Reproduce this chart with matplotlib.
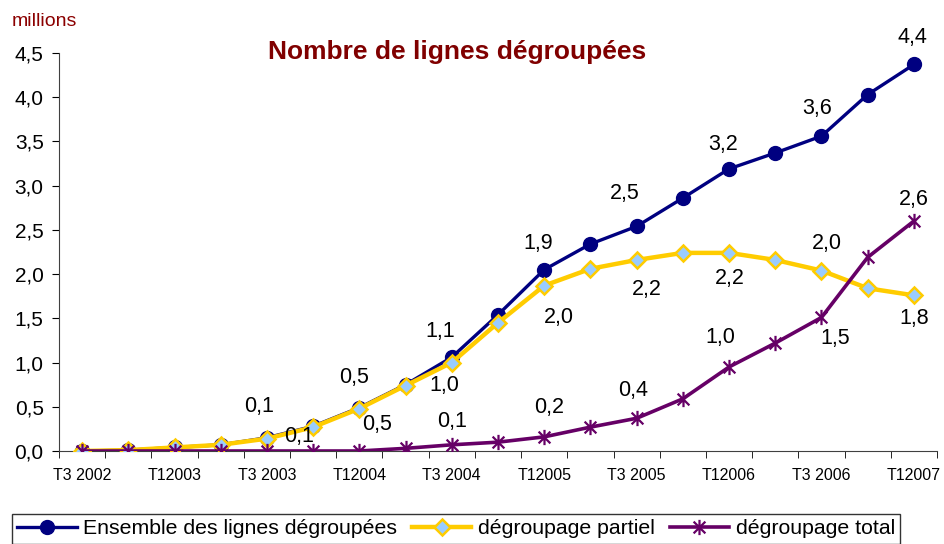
import matplotlib.pyplot as plt
import numpy as np
from matplotlib.path import Path

plt.rcParams['font.family'] = ['Liberation Sans', 'DejaVu Sans']

# Trimestres T3 2002 -> T1 2007
trimestres = ['T3 2002', 'T4 2002', 'T12003', 'T2 2003', 'T3 2003', 'T4 2003',
              'T12004', 'T2 2004', 'T3 2004', 'T4 2004', 'T12005', 'T2 2005',
              'T3 2005', 'T4 2005', 'T12006', 'T2 2006', 'T3 2006', 'T4 2006',
              'T12007']

# millions de lignes
ensemble = [0.0, 0.01, 0.04, 0.07, 0.15, 0.28, 0.49, 0.75, 1.06, 1.54, 2.05,
            2.34, 2.54, 2.86, 3.19, 3.37, 3.56, 4.03, 4.37]
partiel = [0.0, 0.01, 0.04, 0.07, 0.14, 0.27, 0.48, 0.74, 1.0, 1.45, 1.87,
           2.06, 2.16, 2.24, 2.24, 2.16, 2.04, 1.84, 1.76]
total = [0.0, 0.0, 0.0, 0.0, 0.0, 0.0, 0.0, 0.03, 0.07, 0.10, 0.16,
         0.27, 0.37, 0.59, 0.95, 1.22, 1.51, 2.19, 2.60]

# etiquettes de valeurs (texte)
etiq_ensemble = {4: '0,1', 6: '0,5', 8: '1,1', 10: '1,9', 12: '2,5',
                 14: '3,2', 16: '3,6', 18: '4,4'}
etiq_partiel = {4: '0,1', 6: '0,5', 8: '1,0', 10: '2,0', 12: '2,2',
                14: '2,2', 16: '2,0', 18: '1,8'}
etiq_total = {8: '0,1', 10: '0,2', 12: '0,4', 14: '1,0', 16: '1,5', 18: '2,6'}

x = np.arange(len(trimestres))

# marqueur etoile type Excel (x + barre verticale)
etoile = Path([(-1, -1), (1, 1), (-1, 1), (1, -1), (0, -1.3), (0, 1.3)],
              [Path.MOVETO, Path.LINETO, Path.MOVETO, Path.LINETO,
               Path.MOVETO, Path.LINETO])

fig = plt.figure(figsize=(9.45, 5.44), dpi=100)
ax = fig.add_axes([59 / 945, 1 - 451 / 544, 878 / 945, (451 - 53) / 544])

ax.plot(x, ensemble, color='#000080', lw=2.4, marker='o', ms=10,
        mfc='#000080', mec='#000080', label='Ensemble des lignes dégroupées',
        zorder=3)
ax.plot(x, partiel, color='#FFCC00', lw=3.2, marker='D', ms=8,
        mfc='#99CCFF', mec='#FFCC00', mew=1.8, label='dégroupage partiel',
        zorder=4)
ax.plot(x, total, color='#660066', lw=2.6, marker=etoile, ms=11,
        mec='#660066', mew=1.6, label='dégroupage total', zorder=5)

# decalages en pixels (dx, dy vers le bas positif)
pos_ensemble = {4: (-8, -31), 6: (-5, -30), 8: (-12, -26), 10: (-6, -26),
                12: (-12, -33), 14: (-6, -24), 16: (-4, -28), 18: (-1, -27)}
pos_partiel = {4: (32, -2), 6: (18, 16), 8: (-7, 23), 10: (15, 32),
               12: (10, 30), 14: (1, 26), 16: (5, -27), 18: (0, 23)}
pos_total = {8: (0, -23), 10: (5, -29), 12: (-4, -28), 14: (-9, -29),
             16: (14, 21), 18: (0, -22)}

for vals, etiq, pos in [(ensemble, etiq_ensemble, pos_ensemble),
                        (partiel, etiq_partiel, pos_partiel),
                        (total, etiq_total, pos_total)]:
    for i, txt in etiq.items():
        dx, dy = pos[i]
        ax.annotate(txt, (x[i], vals[i]), xytext=(dx * 0.72, -dy * 0.72),
                    textcoords='offset points', ha='center', va='center',
                    fontsize=15.5, color='black', zorder=6)

ax.set_xlim(-0.5, 18.5)
ax.set_ylim(0, 4.5)
ax.set_yticks(np.arange(0, 4.51, 0.5))
ax.set_yticklabels([f'{v:.1f}'.replace('.', ',') for v in np.arange(0, 4.51, 0.5)],
                   fontsize=15)
ax.set_xticks(x[::2])
ax.set_xticklabels(trimestres[::2], fontsize=11.5)
ax.set_xticks(np.arange(-0.5, 18.6, 1), minor=True)
ax.tick_params(axis='x', which='major', length=0, pad=12)
ax.tick_params(axis='x', which='minor', length=5, direction='out')
ax.tick_params(axis='y', length=5, direction='out', pad=6)
for s in ['top', 'right']:
    ax.spines[s].set_visible(False)
ax.spines['left'].set_color('#404040')
ax.spines['bottom'].set_color('#404040')

fig.text(12 / 945, 1 - 21 / 544, 'millions', color='#8B0000', fontsize=14,
         va='center', ha='left')
fig.text(457 / 945, 1 - 52 / 544, 'Nombre de lignes dégroupées',
         color='#800000', fontsize=19, fontweight='bold', ha='center',
         va='center')

leg = fig.legend(loc='center', bbox_to_anchor=(456 / 945, 1 - 529 / 544),
                 ncol=3, fontsize=15.3, frameon=True, fancybox=False,
                 edgecolor='black', handlelength=2.8, columnspacing=0.7,
                 handletextpad=0.3, borderpad=0.25, borderaxespad=0)
leg.get_frame().set_linewidth(1.0)

fig.savefig('out.png', dpi=100)
